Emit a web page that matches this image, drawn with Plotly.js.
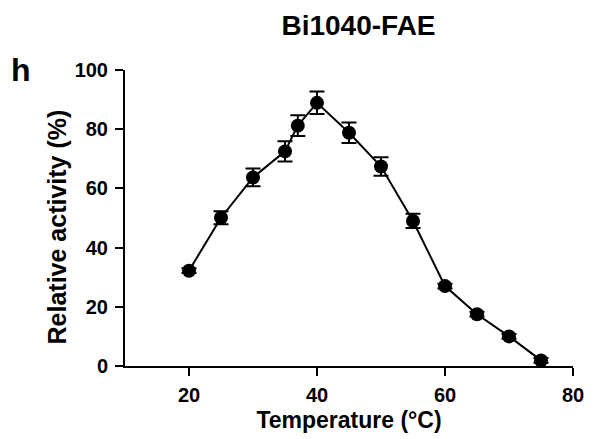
<!DOCTYPE html>
<html>
<head>
<meta charset="utf-8">
<script src="https://cdn.plot.ly/plotly-3.0.1.min.js"></script>
<style>html,body{margin:0;padding:0;background:#fff;}</style>
</head>
<body>
<div id="chart" style="width:596px;height:439px;"></div>
<script>
const temperature = [20, 25, 30, 35, 37, 40, 45, 50, 55, 60, 65, 70, 75];
const activity = [32.2, 50.1, 63.7, 72.5, 81.2, 88.9, 78.8, 67.4, 49.0, 27.0, 17.5, 10.0, 1.9];
const errors = [0.8, 2.2, 3.0, 3.4, 3.5, 3.8, 3.5, 3.1, 2.4, 0.8, 0.8, 0.8, 0.8];
const xTicks = [20, 40, 60, 80];
const yTicks = [0, 20, 40, 60, 80, 100];

const FONT = "Liberation Sans, Arial, Helvetica, sans-serif";

const trace = {
  x: temperature,
  y: activity,
  type: "scatter",
  mode: "lines+markers",
  line: {color: "#000", width: 2},
  marker: {color: "#000", size: 14},
  error_y: {type: "data", array: errors, visible: true, color: "#000", thickness: 2, width: 7.5},
  cliponaxis: false,
  showlegend: false
};

const layout = {
  width: 596, height: 439,
  margin: {l: 125, r: 23, t: 70, b: 73},
  paper_bgcolor: "#fff", plot_bgcolor: "#fff",
  font: {family: FONT, color: "#000", weight: "bold"},
  title: {
    text: "Bi1040-FAE",
    font: {family: FONT, size: 28, color: "#000", weight: "bold"},
    x: 358.5 / 596, xanchor: "center", xref: "container",
    y: 1 - 25 / 439, yanchor: "middle", yref: "container"
  },
  xaxis: {
    range: [10, 80],
    tickvals: xTicks,
    ticktext: xTicks.map(String),
    showline: true, linecolor: "#000", linewidth: 2,
    ticks: "outside", ticklen: 8, tickwidth: 2, tickcolor: "#000",
    showgrid: false, zeroline: false,
    tickfont: {family: FONT, size: 20, color: "#000", weight: "bold"},
    ticklabelstandoff: 2,
    title: {text: "Temperature (°C)", font: {family: FONT, size: 23, color: "#000", weight: "bold"}, standoff: 7}
  },
  yaxis: {
    range: [0, 100],
    tickvals: yTicks,
    ticktext: yTicks.map(String),
    showline: true, linecolor: "#000", linewidth: 2,
    ticks: "outside", ticklen: 8, tickwidth: 2, tickcolor: "#000",
    showgrid: false, zeroline: false,
    tickfont: {family: FONT, size: 20, color: "#000", weight: "bold"},
    ticklabelstandoff: 3
  },
  annotations: [{
    text: "h", xref: "paper", yref: "paper",
    x: (9 - 125) / 448, xanchor: "left",
    y: (366 - 70) / 296, yanchor: "middle",
    showarrow: false,
    font: {family: FONT, size: 32, color: "#000", weight: "bold"}
  }, {
    text: "Relative activity (%)", xref: "paper", yref: "paper",
    x: (57 - 125) / 448, xanchor: "center",
    y: (366 - 227.5) / 296, yanchor: "middle",
    textangle: -90, showarrow: false,
    font: {family: FONT, size: 25, color: "#000", weight: "bold"}
  }]
};

Plotly.newPlot("chart", [trace], layout, {staticPlot: true, displayModeBar: false});
</script>
</body>
</html>
